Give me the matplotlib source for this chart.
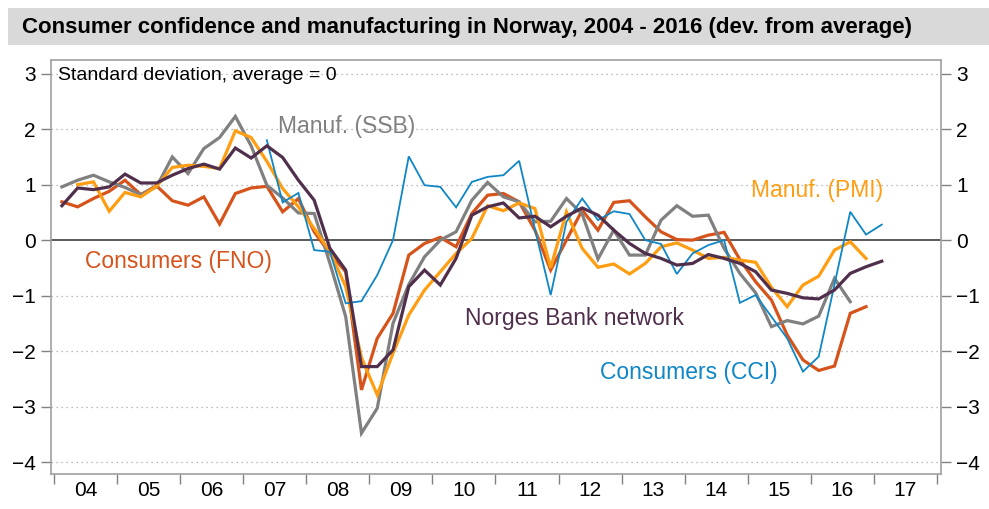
import numpy as np
import pandas as pd
import matplotlib
matplotlib.use("Agg")
import matplotlib.pyplot as plt
from matplotlib.patches import Rectangle
from matplotlib.ticker import FixedLocator, NullFormatter

plt.rcParams['font.family'] = ['Liberation Sans', 'DejaVu Sans']

# quarterly observations, 2004Q1 .. 2017Q1 (None = no data)
quarters = pd.period_range('2004Q1', '2017Q1', freq='Q')

ssb = [0.96, 1.08, 1.17, 1.05, 0.95, 0.82, 0.96, 1.50, 1.20, 1.65, 1.85, 2.23, 1.70,
       0.99, 0.76, 0.49, 0.48, -0.42, -1.38, -3.48, -3.03, -1.50, -0.80, -0.30, 0.00,
       0.15, 0.72, 1.04, 0.78, 0.69, 0.33, 0.34, 0.75, 0.47, -0.34, 0.18, -0.27, -0.27,
       0.36, 0.62, 0.43, 0.45, -0.15, -0.60, -0.95, -1.56, -1.45, -1.51, -1.37, -0.69,
       -1.11, None, None]

fno = [0.69, 0.60, 0.75, 0.88, 1.08, 0.82, 0.98, 0.71, 0.63, 0.78, 0.29, 0.84, 0.94,
       0.97, 0.51, 0.75, 0.15, -0.24, -0.57, -2.70, -1.77, -1.32, -0.27, -0.06, 0.05,
       -0.12, 0.48, 0.81, 0.84, 0.69, 0.18, -0.54, 0.00, 0.54, 0.18, 0.68, 0.71, 0.42,
       0.15, 0.01, 0.00, 0.09, 0.14, -0.35, -0.75, -1.08, -1.71, -2.16, -2.35, -2.27,
       -1.32, -1.20, None]

pmi = [None, 1.00, 1.05, 0.52, 0.86, 0.78, 0.97, 1.31, 1.35, 1.33, 1.29, 1.97, 1.85,
       1.42, 0.93, 0.60, 0.21, -0.21, -0.84, -2.12, -2.79, -2.04, -1.35, -0.90, -0.57,
       -0.24, 0.03, 0.62, 0.53, 0.67, 0.57, -0.50, 0.51, -0.15, -0.49, -0.43, -0.61,
       -0.42, -0.12, -0.05, -0.18, -0.33, -0.31, -0.36, -0.40, -0.85, -1.20, -0.81,
       -0.65, -0.18, -0.03, -0.33, None]

nb_network = [0.62, 0.94, 0.91, 0.96, 1.19, 1.03, 1.03, 1.17, 1.29, 1.37, 1.28, 1.66,
              1.48, 1.70, 1.49, 1.08, 0.72, -0.15, -0.54, -2.28, -2.28, -1.98, -0.84,
              -0.54, -0.81, -0.33, 0.45, 0.60, 0.67, 0.40, 0.43, 0.24, 0.43, 0.58, 0.45,
              0.18, -0.06, -0.24, -0.33, -0.45, -0.42, -0.26, -0.33, -0.42, -0.57, -0.90,
              -0.96, -1.04, -1.06, -0.90, -0.60, -0.48, -0.38]

cci = [None] * 13 + [1.80, 0.68, 0.85, -0.18, -0.21, -1.14, -1.10, -0.63, 0.00, 1.51,
                     0.99, 0.96, 0.59, 1.05, 1.14, 1.17, 1.43, 0.20, -0.99, 0.33, 0.75,
                     0.36, 0.52, 0.47, 0.00, -0.07, -0.61, -0.24, -0.09, 0.00, -1.13,
                     -0.99, -1.38, -1.77, -2.37, -2.10, -0.80, 0.51, 0.10, 0.28]

year_labels = ['04', '05', '06', '07', '08', '09', '10', '11', '12', '13', '14', '15', '16', '17']

# mid-quarter positions in decimal years
xq = np.array([p.year + (p.quarter - 0.5) / 4 for p in quarters])


def arr(v):
    return np.array([np.nan if a is None else a for a in v], dtype=float)


c_fno = '#D6541B'
c_pmi = '#FF9E12'
c_ssb = '#808080'
c_nb = '#502F4C'
c_cci = '#0F86C6'

fig = plt.figure(figsize=(9.89, 5.09), dpi=100)
ax = fig.add_axes([51 / 989, 35 / 509, 890 / 989, 414 / 509])

# title bar
fig.patches.append(Rectangle((8 / 989, 464 / 509), 981 / 989, 37 / 509,
                             transform=fig.transFigure, facecolor='#d9d9d9',
                             edgecolor='none', zorder=0))
fig.text(22 / 989, 1 - 28 / 509, 'Consumer confidence and manufacturing in Norway, 2004 - 2016 (dev. from average)',
         fontsize=16, fontweight='bold', va='center', ha='left')

# grid
for yv in [-4, -3, -2, -1, 1, 2, 3]:
    ax.axhline(yv, color='#a6a6a6', lw=0.9, ls=(0, (1, 3)), zorder=1)
ax.axhline(0, color='#5a5a5a', lw=1.4, zorder=2)

ax.plot(xq, arr(fno), color=c_fno, lw=2.3, zorder=3, solid_joinstyle='miter')
ax.plot(xq, arr(pmi), color=c_pmi, lw=2.3, zorder=4, solid_joinstyle='miter')
ax.plot(xq, arr(ssb), color=c_ssb, lw=2.3, zorder=3, solid_joinstyle='miter')
ax.plot(xq, arr(cci), color=c_cci, lw=1.3, zorder=5, solid_joinstyle='miter')
ax.plot(xq, arr(nb_network), color=c_nb, lw=2.3, zorder=6, solid_joinstyle='miter')

lab = dict(fontsize=16.5, ha='center', va='center')
ax.text(2008.64, 2.04, 'Manuf. (SSB)', color=c_ssb, **lab)
ax.text(2005.97, -0.39, 'Consumers (FNO)', color=c_fno, **lab)
ax.text(2012.25, -1.41, 'Norges Bank network', color=c_nb, **lab)
ax.text(2014.06, -2.38, 'Consumers (CCI)', color=c_cci, **lab)
ax.text(2016.1, 0.90, 'Manuf. (PMI)', color=c_pmi, **lab)
ax.text(2004.07, 2.97, 'Standard deviation, average = 0', fontsize=14, ha='left', va='center')

ax.set_xlim(2003.952, 2018.064)
ax.set_ylim(-4.216, 3.247)

years = np.arange(2004, 2019)
ax.xaxis.set_major_locator(FixedLocator(years))
ax.xaxis.set_major_formatter(NullFormatter())
ax.xaxis.set_minor_locator(FixedLocator(years[:-1] + 0.5))
ax.set_xticklabels(year_labels, minor=True)
ax.tick_params(axis='x', which='major', direction='out', length=7, color='#808080', width=1)
ax.tick_params(axis='x', which='minor', length=0, labelsize=15, pad=5)

ax.set_yticks(np.arange(-4, 4))
ax.tick_params(axis='y', which='major', direction='out', length=7, color='#808080', width=1,
               labelsize=15, left=True, right=True, labelleft=True, labelright=True, pad=4)

for s in ax.spines.values():
    s.set_color('#a0a0a0')
    s.set_linewidth(1.2)

fig.savefig('out.png', dpi=100)
